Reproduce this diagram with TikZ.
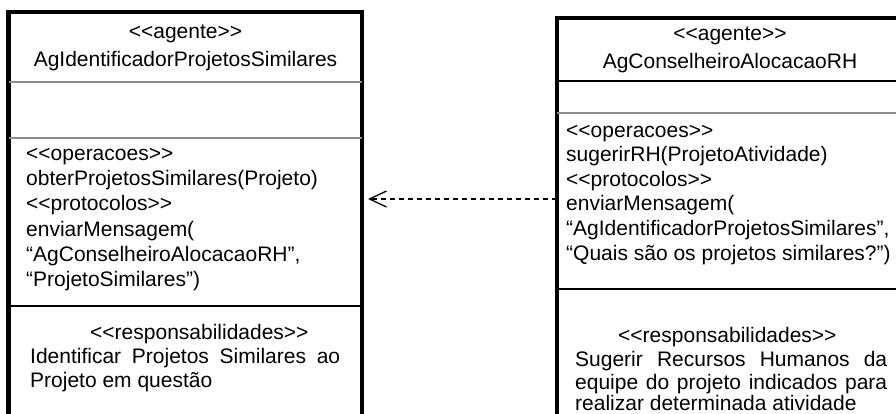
\documentclass[tikz,border=0pt]{standalone}
\usepackage{fontspec}
\setmainfont{Liberation Sans}
\usetikzlibrary{arrows.meta}
% stereotype brackets, kept apart so the TeX mapping does not turn them into guillemets
\newcommand\stO{<\kern0pt<}
\newcommand\stC{>\kern0pt>}

\begin{document}
\begin{tikzpicture}[x=1pt,y=-1pt,
  agentbox/.style={draw,line width=4.2pt,rectangle,anchor=north west,inner sep=0pt,outer sep=0pt},
  thinsep/.style={draw=black!45,line width=1.2pt},
  thicksep/.style={draw=black,line width=2.3pt},
  ln/.style={anchor=base west,inner sep=0pt,font=\fontsize{21}{23}\selectfont},
  ttl/.style={anchor=base,inner sep=0pt,font=\fontsize{21}{23}\selectfont},
  dep/.style={line width=1.3pt,dash pattern=on 5.5pt off 3.5pt,
              -{Straight Barb[length=17pt,width=16pt]}}]
\useasboundingbox (0,0) rectangle (896,414);

% ---------- agent AgIdentificadorProjetosSimilares ----------
\node[agentbox,minimum width=353.5pt,minimum height=440pt] (agL) at (8.5,11.7) {};
\draw[thinsep]  (8.5,82)  -- (362,82);
\draw[thinsep]  (8.5,138) -- (362,138);
\draw[thicksep] (8.5,306) -- (362,306);

\node[ttl] (lt1) at (185.5,38.5) {\stO agente\stC};
\node[ttl] (lt2) at (185.5,66.5) {AgIdentificadorProjetosSimilares};

\node[ln] (lo1) at (26,160.5) {\stO operacoes\stC};
\node[ln] (lo2) at (26,185.7) {obterProjetosSimilares(Projeto)};
\node[ln] (lo3) at (26,210.9) {\stO protocolos\stC};
\node[ln] (lo4) at (26,236.1) {enviarMensagem(};
\node[ln] (lo5) at (26,261.3) {“AgConselheiroAlocacaoRH”,};
\node[ln] (lo6) at (26,286.5) {“ProjetoSimilares”)};

\node[ln] (lr1) at (90,339)  {\stO responsabilidades\stC};
\node[ln] (lr2) at (30,363)  {\makebox[310pt][s]{Identificar Projetos Similares ao}};
\node[ln] (lr3) at (30,387)  {Projeto em questão};

% ---------- agent AgConselheiroAlocacaoRH ----------
\node[agentbox,minimum width=347pt,minimum height=440pt] (agR) at (557,18) {};
\draw[thicksep] (557,81)  -- (904,81);
\draw[thinsep]  (557,113) -- (904,113);
\draw[thicksep] (557,289) -- (904,289);

\node[ttl] (rt1) at (730,40.5) {\stO agente\stC};
\node[ttl] (rt2) at (730,68.5) {AgConselheiroAlocacaoRH};

\node[ln] (ro1) at (566,137.5) {\stO operacoes\stC};
\node[ln] (ro2) at (566,162)   {sugerirRH(ProjetoAtividade)};
\node[ln] (ro3) at (566,186.5) {\stO protocolos\stC};
\node[ln] (ro4) at (566,211)   {enviarMensagem(};
\node[ln] (ro5) at (566,235.5) {“AgIdentificadorProjetosSimilares”,};
\node[ln] (ro6) at (566,260)   {“Quais são os projetos similares?”)};

\node[ln] (rr1) at (618,342)   {\stO responsabilidades\stC};
\node[ln] (rr2) at (575,366)   {\makebox[312pt][s]{Sugerir Recursos Humanos da}};
\node[ln] (rr3) at (575,389)   {\makebox[312pt][s]{equipe do projeto indicados para}};
\node[ln] (rr4) at (575,410)   {realizar determinada atividade};

% ---------- dependency ----------
\coordinate (depy) at (0,199);
\draw[dep] (agR.west |- depy) -- ([xshift=6pt]agL.east |- depy);
\end{tikzpicture}
\end{document}
